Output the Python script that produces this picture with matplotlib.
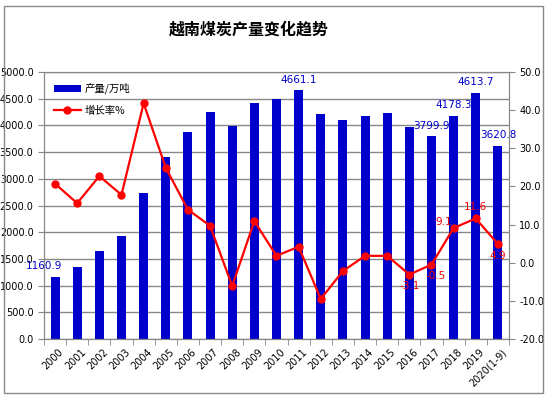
import matplotlib.pyplot as plt
import numpy as np
from matplotlib.patches import Rectangle

plt.rcParams['font.family'] = ['Noto Sans CJK SC', 'DejaVu Sans']

years = ['2000', '2001', '2002', '2003', '2004', '2005', '2006', '2007', '2008', '2009',
         '2010', '2011', '2012', '2013', '2014', '2015', '2016', '2017', '2018', '2019',
         '2020(1-9)']
output = [1160.9, 1348, 1648, 1934, 2734, 3408, 3876, 4250, 3990, 4420,
          4494, 4661.1, 4213, 4100, 4176, 4232, 3970, 3799.9, 4178.3, 4613.7, 3620.8]
growth = [20.7, 15.6, 22.7, 17.8, 41.8, 24.9, 13.9, 9.7, -6.1, 10.9,
          1.8, 4.2, -9.5, -2.2, 1.8, 1.8, -3.1, -0.5, 9.1, 11.6, 4.9]

fig = plt.figure(figsize=(5.47, 3.99), dpi=100)
fig.patches.append(Rectangle((4 / 547, 6 / 399), 539 / 547, 387 / 399, transform=fig.transFigure,
                             fill=False, edgecolor='#888888', linewidth=1))
ax = fig.add_axes([0.0804, 0.1504, 0.8501, 0.6691])
x = np.arange(len(years))

bars = ax.bar(x, output, width=0.41, color='#0000CC', label='产量/万吨', zorder=2)
ax.set_xlim(-0.5, len(years) - 0.5)
ax.set_ylim(0, 5000)
ax.set_yticks(np.arange(0, 5001, 500))
ax.set_yticklabels([f'{v:.1f}' for v in np.arange(0, 5001, 500)], fontsize=7, family='DejaVu Sans')
ax.grid(axis='y', color='#888888', linewidth=1, zorder=0)

# labels at category centres, tick marks at category boundaries
ax.set_xticks(x + 0.15)
ax.set_xticklabels(years, rotation=45, fontsize=7, family='DejaVu Sans', ha='right', rotation_mode='anchor')
ax.set_xticks(np.arange(-0.5, len(years)), minor=True)
ax.tick_params(axis='x', which='major', length=0, pad=6)
ax.tick_params(axis='x', which='minor', length=4, colors='#888888')
ax.tick_params(axis='y', colors='#888888', labelcolor='black', length=4)
for s in ax.spines.values():
    s.set_color('#888888')

ax2 = ax.twinx()
line, = ax2.plot(x, growth, color='#FF0000', linewidth=1.6, marker='o', markersize=5,
                 label='增长率%', zorder=3)
ax2.set_ylim(-20, 50)
ax2.set_yticks(np.arange(-20, 51, 10))
ax2.set_yticklabels([f'{v:.1f}' for v in np.arange(-20, 51, 10)], fontsize=7, family='DejaVu Sans')
ax2.tick_params(colors='#888888', labelcolor='black', length=4)
for s in ax2.spines.values():
    s.set_color('#888888')

# bar value labels
for i in [0, 11, 17, 18, 19, 20]:
    dx = -0.5 if i == 0 else 0
    ax.annotate(f'{output[i]:.1f}', (x[i] + dx, output[i]), xytext=(0, 4), textcoords='offset points',
                ha='center', va='bottom', fontsize=7.5, color='#0000CC', family='DejaVu Sans')

# growth value labels
offsets = {16: (0, -12), 17: (3, -12), 18: (-7, 1), 19: (0, 5), 20: (0, -12)}
for i, (ox, oy) in offsets.items():
    ax2.annotate(f'{growth[i]:.1f}', (x[i], growth[i]), xytext=(ox, oy), textcoords='offset points',
                 ha='center', va='bottom', fontsize=7.5, color='#FF0000', family='DejaVu Sans')

ax.legend([bars, line], ['产量/万吨', '增长率%'], loc='upper left', frameon=False, fontsize=7.5,
          handlelength=2.6, handletextpad=0.4, labelspacing=1.1, borderaxespad=0,
          bbox_to_anchor=(0.012, 0.975))

fig.text(249 / 547, 0.925, '越南煤炭产量变化趋势', ha='center', va='center', fontsize=11.5, fontweight='bold')

fig.savefig('out.png', dpi=100)
